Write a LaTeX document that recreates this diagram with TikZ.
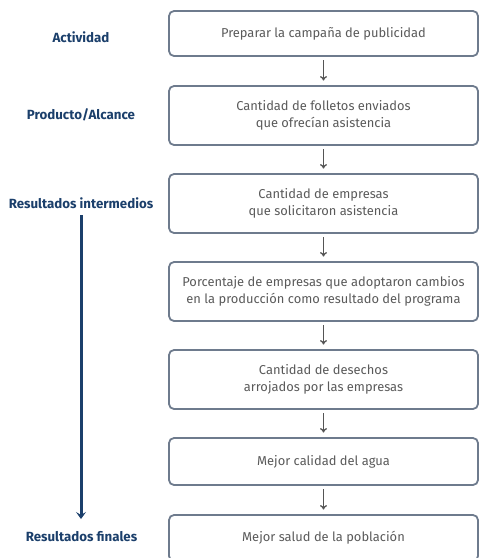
\documentclass[tikz,border=0pt]{standalone}
\usepackage{fontspec}
\setmainfont{Fira Sans}
\usetikzlibrary{arrows.meta}
\definecolor{boxline}{HTML}{6E7B8D}
\definecolor{boxtext}{HTML}{5A5A5A}
\definecolor{navy}{HTML}{1B3F6B}
\definecolor{arrowgray}{HTML}{555555}
\begin{document}
\begin{tikzpicture}[x=1pt,y=-1pt,
  stagebox/.style={draw=boxline, line width=1.8pt, rounded corners=5pt, minimum width=309pt,
    align=center, text=boxtext, font=\fontsize{12.9}{16.5}\selectfont, inner sep=0pt},
  stagelabel/.style={text=navy, font=\fontsize{13.3}{15}\selectfont\bfseries, inner sep=0pt},
  flow/.style={draw=arrowgray, line width=1.3pt, -{To[length=4.5pt,width=7pt]}, shorten <=3.5pt, shorten >=4.5pt},
  bigflow/.style={draw=navy, line width=3pt, -{Stealth[length=7pt,width=10pt,inset=3pt]}}
]
\useasboundingbox (0,0) rectangle (479,558);
\begin{scope}
\clip (0,0) rectangle (479,558);
\node[stagebox, minimum height=45pt] (b1) at (323.5,33.5) {Preparar la campaña de publicidad};
\node[stagebox, minimum height=59pt] (b2) at (323.5,115.5) {Cantidad de folletos enviados\\que ofrecían asistencia};
\node[stagebox, minimum height=59pt] (b3) at (323.5,203.5) {Cantidad de empresas\\que solicitaron asistencia};
\node[stagebox, minimum height=59pt] (b4) at (323.5,291.5) {Porcentaje de empresas que adoptaron cambios\\en la producción como resultado del programa};
\node[stagebox, minimum height=59pt] (b5) at (323.5,379.5) {Cantidad de desechos\\arrojados por las empresas};
\node[stagebox, minimum height=47pt] (b6) at (323.5,461.5) {Mejor calidad del agua};
\node[stagebox, minimum height=46pt] (b7) at (323.5,538) {Mejor salud de la población};
\end{scope}
\draw[flow] (b1) -- (b2);
\draw[flow] (b2) -- (b3);
\draw[flow] (b3) -- (b4);
\draw[flow] (b4) -- (b5);
\draw[flow] (b5) -- (b6);
\draw[flow] (b6) -- (b7);
\node[stagelabel] (l1) at (81,37) {Actividad};
\node[stagelabel] (l2) at (81,115) {Producto/Alcance};
\node[stagelabel] (l3) at (81,203) {Resultados intermedios};
\node[stagelabel] (l4) at (81.5,537) {Resultados finales};
\coordinate (a1) at (81,215);
\coordinate (a2) at (81,519);
\draw[bigflow] (a1) -- (a2);
\end{tikzpicture}
\end{document}
